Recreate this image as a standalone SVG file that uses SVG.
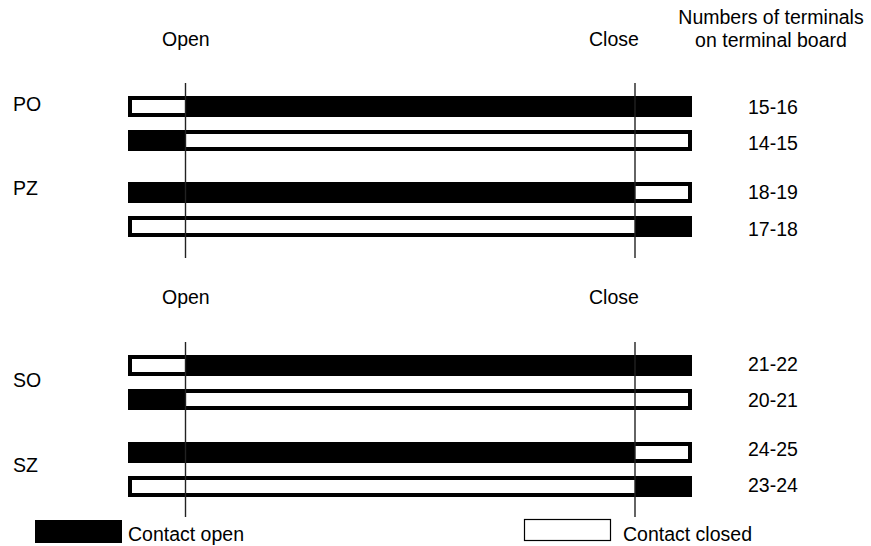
<svg xmlns="http://www.w3.org/2000/svg" width="871" height="546" viewBox="0 0 871 546">
<style>
text{font-family:"Liberation Sans",Arial,Helvetica,sans-serif;font-size:19.5px;fill:#000}
.bar{fill:#fff;stroke:#000;stroke-width:4}
.blk{fill:#000}
.guide{stroke:#222;stroke-width:1.4;fill:none}
</style>
<rect width="871" height="546" fill="#fff"/>
<g id="header">
<text x="771" y="24" text-anchor="middle">Numbers of terminals</text>
<text x="771" y="46.5" text-anchor="middle">on terminal board</text>
<text x="162" y="46">Open</text>
<text x="589" y="46">Close</text>
<text x="162" y="304">Open</text>
<text x="589" y="304">Close</text>
</g>
<g id="labels">
<text x="13" y="111">PO</text>
<text x="13" y="195">PZ</text>
<text x="13" y="387">SO</text>
<text x="13" y="472">SZ</text>
</g>
<g id="bar-15-16"><rect class="bar" x="130" y="98" width="560" height="17"/><rect class="blk" x="185.5" y="96" width="506.5" height="21"/><text x="748" y="114">15-16</text></g>
<g id="bar-14-15"><rect class="bar" x="130" y="132" width="560" height="17"/><rect class="blk" x="128" y="130" width="57.5" height="21"/><text x="748" y="150">14-15</text></g>
<g id="bar-18-19"><rect class="bar" x="130" y="184" width="560" height="17"/><rect class="blk" x="128" y="182" width="507" height="21"/><text x="748" y="199">18-19</text></g>
<g id="bar-17-18"><rect class="bar" x="130" y="218" width="560" height="17"/><rect class="blk" x="635" y="216" width="57" height="21"/><text x="748" y="236">17-18</text></g>
<g id="bar-21-22"><rect class="bar" x="130" y="357" width="560" height="17"/><rect class="blk" x="185.5" y="355" width="506.5" height="21"/><text x="748" y="371">21-22</text></g>
<g id="bar-20-21"><rect class="bar" x="130" y="391" width="560" height="17"/><rect class="blk" x="128" y="389" width="57.5" height="21"/><text x="748" y="407">20-21</text></g>
<g id="bar-24-25"><rect class="bar" x="130" y="444" width="560" height="17"/><rect class="blk" x="128" y="442" width="507" height="21"/><text x="748" y="456">24-25</text></g>
<g id="bar-23-24"><rect class="bar" x="130" y="478" width="560" height="17"/><rect class="blk" x="635" y="476" width="57" height="21"/><text x="748" y="492">23-24</text></g>
<g id="connectors">
<line class="guide" x1="185.5" y1="83" x2="185.5" y2="258"/>
<line class="guide" x1="635" y1="83" x2="635" y2="258"/>
<line class="guide" x1="185.5" y1="342" x2="185.5" y2="517"/>
<line class="guide" x1="635" y1="342" x2="635" y2="517"/>
</g>
<g id="legend">
<rect class="blk" x="35" y="520" width="87" height="23"/>
<text x="128" y="541">Contact open</text>
<rect x="524.5" y="519.5" width="86" height="21" fill="#fff" stroke="#000" stroke-width="1.2"/>
<text x="623" y="541">Contact closed</text>
</g>
</svg>
